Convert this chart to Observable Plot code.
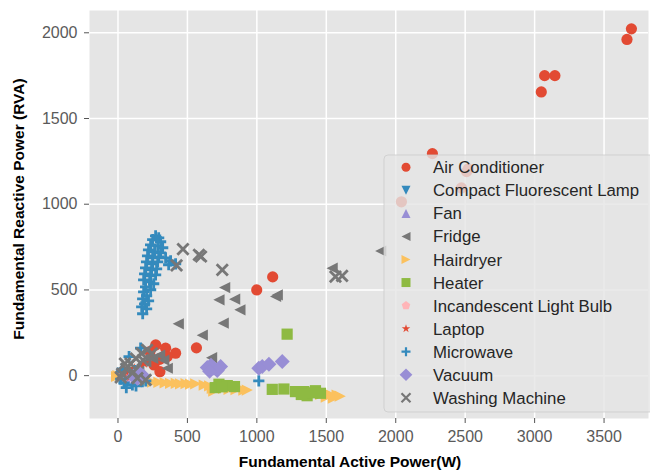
<!DOCTYPE html>
<html><head><meta charset="utf-8">
<script src="https://cdn.jsdelivr.net/npm/d3@7"></script>
<script src="https://cdn.jsdelivr.net/npm/@observablehq/plot@0.6"></script>
<style>body{margin:0;background:#fff}#chart{width:650px;height:470px}</style>
</head><body><div id="chart"></div>
<script>
const categories = ["Air Conditioner","Compact Fluorescent Lamp","Fan","Fridge","Hairdryer","Heater","Incandescent Light Bulb","Laptop","Microwave","Vacuum","Washing Machine"];
const colors = ["#E24A33","#348ABD","#988ED5","#777777","#FBC15E","#8EBA42","#FFB5B8","#E24A33","#348ABD","#988ED5","#777777"];
const xTicks = [0,500,1000,1500,2000,2500,3000,3500];
const yTicks = [0,500,1000,1500,2000];
const xLabel = "Fundamental Active Power(W)";
const yLabel = "Fundamental Reactive Power (RVA)";

const airConditioner = [[3697,2023],[3665,1961],[3072,1750],[3146,1750],[3048,1655],[2264,1295],[2523,1207],[2510,1190],[2473,1095],[2041,1014],[1114,576],[999,500],[565,162],[272,179],[343,160],[415,131],[355,111],[259,62],[302,23],[300,95],[230,140]];
const cfl = [[20,-5],[15,-15],[25,0],[10,-10]];
const fan = [[40,10],[55,-15],[35,20],[60,5]];
const fridge = [[1892,727],[1542,627],[1147,471],[1135,462],[768,514],[727,442],[840,446],[878,384],[758,306],[434,302],[607,236],[674,105],[355,43],[300,120],[250,100],[200,80],[150,50],[100,30],[60,10],[330,90]];
const hairdryer = [[0,0],[-10,-5],[20,-10],[150,-30],[200,-35],[250,-38],[295,-39],[340,-42],[379,-45],[420,-45],[451,-48],[490,-47],[523,-50],[560,-48],[621,-55],[660,-60],[679,-75],[720,-70],[760,-75],[800,-80],[850,-82],[907,-85],[931,-84],[690,-90],[1460,-110],[1506,-103],[1530,-110],[1578,-113],[1551,-132],[1500,-125],[1600,-120]];
const heater = [[1218,242],[727,-50],[787,-58],[839,-64],[700,-70],[750,-65],[1111,-80],[1195,-78],[1278,-93],[1338,-93],[1362,-117],[1422,-88],[1458,-103],[1400,-100],[1320,-110]];
const incandescent = [[60,0],[100,-2],[80,3],[45,-1]];
const laptop = [[187,72],[60,20],[90,-5],[40,10],[120,40]];
const microwave = [[271,815],[293,804],[250,793],[307,781],[235,763],[286,757],[322,746],[220,734],[264,722],[307,716],[213,699],[250,687],[293,693],[343,687],[379,670],[415,652],[365,647],[206,664],[250,652],[286,664],[199,629],[242,617],[278,623],[192,594],[235,582],[271,588],[185,559],[228,547],[257,536],[199,518],[235,501],[185,489],[206,466],[178,448],[220,436],[192,419],[171,401],[206,390],[178,361],[163,160],[80,111],[43,-44],[104,-54],[176,-35],[1014,-31],[20,-20],[60,-70],[130,-60],[30,40],[120,30],[200,-30]];
const vacuum = [[643,47],[691,43],[739,53],[670,60],[715,30],[660,25],[1014,43],[1039,53],[1087,66],[1183,82],[140,-15],[127,8],[160,10],[110,-5],[180,0]];
const washing = [[468,738],[583,705],[598,695],[422,643],[751,617],[1566,578],[1614,582],[199,-25],[30,10],[60,40],[90,70],[130,100],[170,130],[210,150],[245,130],[180,90],[20,-10],[50,70],[140,-15],[110,20]];

const seriesData = [airConditioner,cfl,fan,fridge,hairdryer,heater,incandescent,laptop,microwave,vacuum,washing];

// matplotlib-like marker shapes; r = half marker size
const rad = s => Math.sqrt(s / Math.PI);
function poly(ctx, pts){ctx.moveTo(pts[0][0],pts[0][1]);for(let i=1;i<pts.length;i++)ctx.lineTo(pts[i][0],pts[i][1]);ctx.closePath();}
const symCircle = {draw(c,s){const r=rad(s);c.moveTo(r,0);c.arc(0,0,r,0,2*Math.PI);}};
const symDown = {draw(c,s){const r=rad(s);poly(c,[[0,r],[-r,-r],[r,-r]]);}};
const symUp = {draw(c,s){const r=rad(s);poly(c,[[0,-r],[-r,r],[r,r]]);}};
const symLeft = {draw(c,s){const r=rad(s);poly(c,[[-r,0],[r,-r],[r,r]]);}};
const symRight = {draw(c,s){const r=rad(s);poly(c,[[r,0],[-r,-r],[-r,r]]);}};
const symSquare = {draw(c,s){const r=rad(s);poly(c,[[-r,-r],[r,-r],[r,r],[-r,r]]);}};
const symPent = {draw(c,s){const r=rad(s);const p=[];for(let i=0;i<5;i++){const a=-Math.PI/2+i*2*Math.PI/5;p.push([r*Math.cos(a),r*Math.sin(a)]);}poly(c,p);}};
const symStar = {draw(c,s){const r=rad(s);const ri=r*0.381966;const p=[];for(let i=0;i<10;i++){const a=-Math.PI/2+i*Math.PI/5;const rr=i%2?ri:r;p.push([rr*Math.cos(a),rr*Math.sin(a)]);}poly(c,p);}};
const symPlus = {draw(c,s){const r=rad(s);c.moveTo(-r,0);c.lineTo(r,0);c.moveTo(0,-r);c.lineTo(0,r);}};
const symDiamond = {draw(c,s){const r=rad(s)*Math.SQRT2;poly(c,[[0,-r],[r,0],[0,r],[-r,0]]);}};
const symX = {draw(c,s){const r=rad(s);c.moveTo(-r,-r);c.lineTo(r,r);c.moveTo(-r,r);c.lineTo(r,-r);}};
const symbols = [symCircle,symDown,symUp,symLeft,symRight,symSquare,symPent,symStar,symPlus,symDiamond,symX];
const strokeOnly = [false,false,false,false,false,false,false,false,true,false,true];

const dotMarks = seriesData.map((data,i) => Plot.dot(data, {
  x: d => d[0], y: d => d[1], r: i===9 ? 5.3 : 5.6, symbol: symbols[i],
  fill: strokeOnly[i] ? "none" : colors[i],
  stroke: strokeOnly[i] ? colors[i] : "none",
  strokeWidth: strokeOnly[i] ? 2.8 : 0
}));

const tickFont = "Liberation Sans, Arial, Helvetica, sans-serif";
const plot = Plot.plot({
  width: 650, height: 470,
  marginLeft: 89, marginRight: 2, marginTop: 10, marginBottom: 52,
  style: {background: "white", fontFamily: tickFont, fontSize: "16px"},
  x: {domain: [-205, 3820]},
  y: {domain: [-250, 2130]},
  marks: [
    Plot.frame({fill: "#E5E5E5", stroke: "none"}),
    Plot.gridX(xTicks, {stroke: "white", strokeOpacity: 1, strokeWidth: 1.5}),
    Plot.gridY(yTicks, {stroke: "white", strokeOpacity: 1, strokeWidth: 1.5}),
    Plot.axisX(xTicks, {tickSize: 5, tickPadding: 7, stroke: "#555", fill: "#5a5a5a", fontSize: 16, tickFormat: d => String(d), label: null}),
    Plot.axisY(yTicks, {tickSize: 5, tickPadding: 7, stroke: "#555", fill: "#5a5a5a", fontSize: 16, tickFormat: d => String(d), label: null}),
    ...dotMarks
  ]
});
document.getElementById("chart").appendChild(plot);

const svg = d3.select(plot);
// axis titles
svg.append("text").attr("x", 350).attr("y", 467).attr("text-anchor","middle")
  .attr("font-family",tickFont).attr("font-weight","bold").attr("font-size",15.5).attr("fill","#000").text(xLabel);
svg.append("text").attr("transform","translate(24,209) rotate(-90)").attr("text-anchor","middle")
  .attr("font-family",tickFont).attr("font-weight","bold").attr("font-size",15.5).attr("fill","#000").text(yLabel);

// legend inside the plot area
const lg = svg.append("g");
lg.append("rect").attr("x",384).attr("y",155).attr("width",270).attr("height",257).attr("rx",4)
  .attr("fill","#E5E5E5").attr("fill-opacity",0.8).attr("stroke","#CCCCCC").attr("stroke-opacity",0.8);
categories.forEach((name,i) => {
  const cy = 167.3 + i*23.05;
  const path = d3.symbol(symbols[i], Math.PI*4.5*4.5)();
  lg.append("path").attr("d", path).attr("transform", `translate(406,${cy})`)
    .attr("fill", strokeOnly[i] ? "none" : colors[i])
    .attr("stroke", strokeOnly[i] ? colors[i] : "none").attr("stroke-width", 2.2);
  lg.append("text").attr("x", 433).attr("y", cy).attr("dy","0.36em").attr("text-anchor","start")
    .attr("font-family",tickFont).attr("font-size",16.8).attr("fill","#262626").text(name);
});
</script></body></html>
